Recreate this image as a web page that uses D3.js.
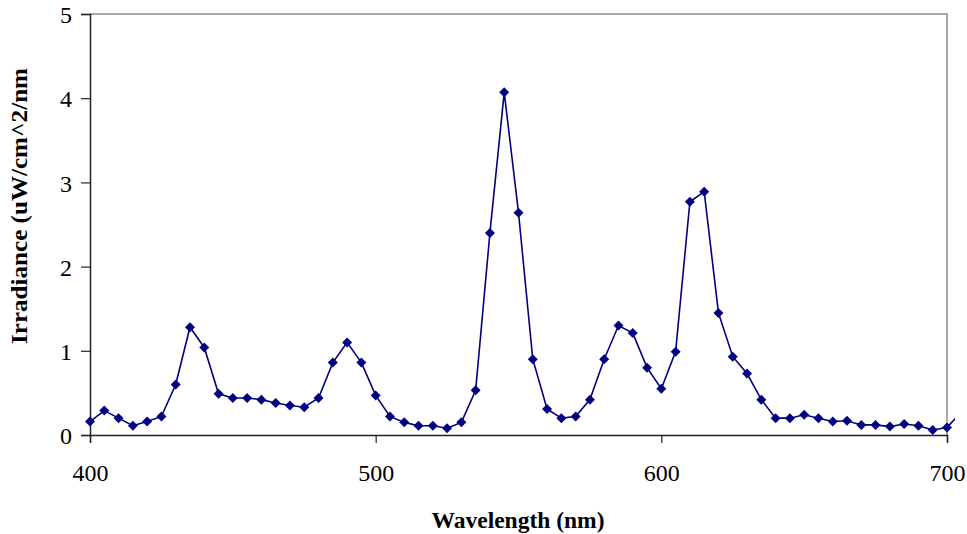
<!DOCTYPE html>
<html>
<head>
<meta charset="utf-8">
<script src="https://cdn.jsdelivr.net/npm/d3@7"></script>
<style>
  html, body { margin: 0; padding: 0; background: #fff; }
  svg { display: block; font-family: "Liberation Serif", "Times New Roman", serif; }
</style>
</head>
<body>
<svg id="chart" width="967" height="534"></svg>
<script>
// Spectral irradiance, sampled every 5 nm
const wavelengths = [400,405,410,415,420,425,430,435,440,445,450,455,460,465,470,475,480,485,490,495,
  500,505,510,515,520,525,530,535,540,545,550,555,560,565,570,575,580,585,590,595,
  600,605,610,615,620,625,630,635,640,645,650,655,660,665,670,675,680,685,690,695,700,705];
const irradiance = [0.16,0.29,0.20,0.11,0.16,0.22,0.60,1.28,1.04,0.49,0.44,0.44,0.42,0.38,0.35,0.33,0.44,0.86,1.10,0.86,
  0.47,0.22,0.15,0.11,0.11,0.08,0.15,0.53,2.40,4.07,2.64,0.90,0.31,0.20,0.22,0.42,0.90,1.30,1.21,0.80,
  0.55,0.99,2.77,2.89,1.45,0.93,0.73,0.42,0.20,0.20,0.24,0.20,0.16,0.17,0.12,0.12,0.10,0.13,0.11,0.06,0.09,0.27];
const xTicks = [400, 500, 600, 700];
const yTicks = [0, 1, 2, 3, 4, 5];

const svg = d3.select("#chart");
const plot = { left: 90, right: 947, top: 14, bottom: 435 };

const x = d3.scaleLinear().domain([400, 700]).range([plot.left, plot.right]);
const y = d3.scaleLinear().domain([0, 5]).range([plot.bottom, plot.top]);

// Plot frame: grey top and right edges
svg.append("path")
  .attr("d", `M${plot.left},${plot.top}H${plot.right}V${plot.bottom}`)
  .attr("fill", "none").attr("stroke", "#8c8c8c").attr("stroke-width", 1.5);

// Axes
const xAxis = svg.append("g").attr("transform", `translate(0,${plot.bottom})`)
  .call(d3.axisBottom(x).tickValues(xTicks).tickSize(8).tickPadding(0).tickFormat(d3.format("d")));
const yAxis = svg.append("g").attr("transform", `translate(${plot.left},0)`)
  .call(d3.axisLeft(y).tickValues(yTicks).tickSize(9).tickPadding(0).tickFormat(d3.format("d")));

[xAxis, yAxis].forEach(g => {
  g.select(".domain").attr("stroke", "#222").attr("stroke-width", 1.5);
  g.selectAll(".tick line").attr("stroke", "#222").attr("stroke-width", 1.2);
  g.selectAll(".tick text").attr("font-family", "Liberation Serif, serif")
    .attr("font-size", 24).attr("fill", "#000");
});
xAxis.selectAll(".tick text").attr("y", 46).attr("dy", 0);
yAxis.selectAll(".tick text").attr("x", -18).attr("dy", "0.36em");

// Series clipped slightly past the right axis
svg.append("clipPath").attr("id", "clip")
  .append("rect").attr("x", 0).attr("y", 0).attr("width", 955).attr("height", 534);

const pts = wavelengths.map((w, i) => [w, irradiance[i]]);
const series = svg.append("g").attr("clip-path", "url(#clip)");

series.append("path")
  .datum(pts)
  .attr("fill", "none")
  .attr("stroke", "#000080")
  .attr("stroke-width", 1.6)
  .attr("d", d3.line().x(d => x(d[0])).y(d => y(d[1])));

const diamond = d3.symbol().type(d3.symbolSquare).size(50);
series.selectAll("path.marker")
  .data(pts)
  .join("path")
  .attr("class", "marker")
  .attr("d", diamond)
  .attr("fill", "#000080")
  .attr("transform", d => `translate(${x(d[0])},${y(d[1])}) rotate(45)`);

// Axis titles
svg.append("text")
  .attr("x", 518).attr("y", 528)
  .attr("text-anchor", "middle")
  .attr("font-size", 24).attr("font-weight", "bold")
  .attr("textLength", 173).attr("lengthAdjust", "spacingAndGlyphs")
  .text("Wavelength (nm)");

svg.append("text")
  .attr("transform", "translate(27,206) rotate(-90)")
  .attr("text-anchor", "middle")
  .attr("font-size", 24).attr("font-weight", "bold")
  .attr("textLength", 276).attr("lengthAdjust", "spacingAndGlyphs")
  .text("Irradiance (uW/cm^2/nm");
</script>
</body>
</html>
